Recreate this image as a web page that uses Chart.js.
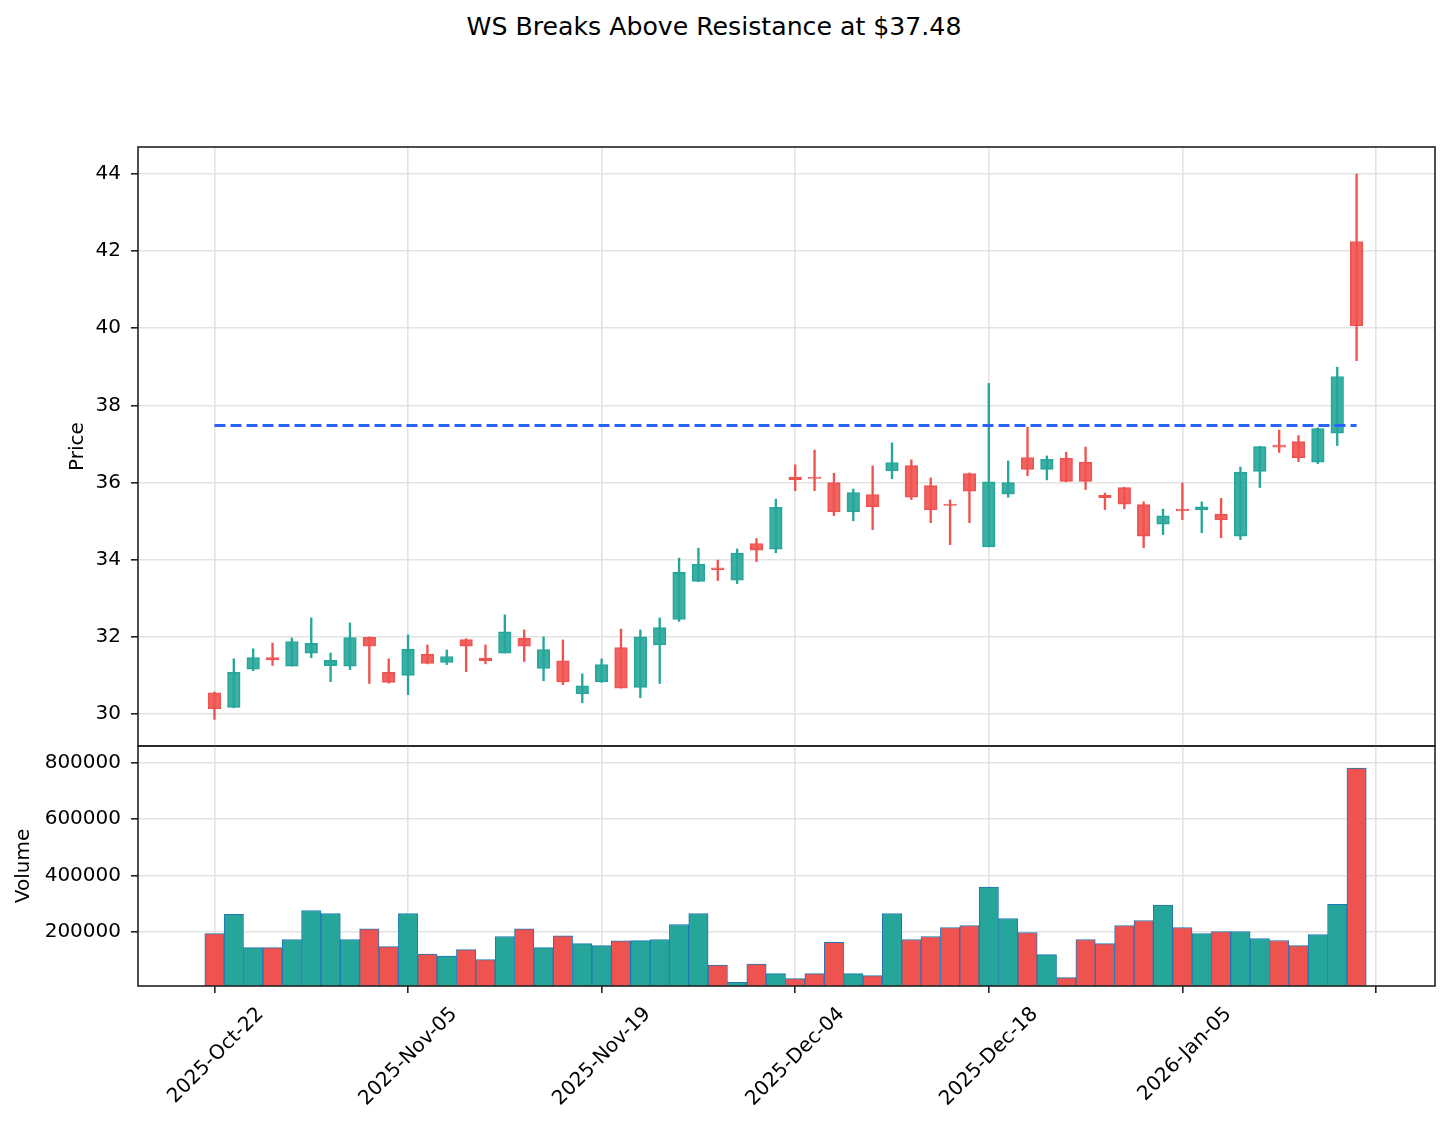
<!DOCTYPE html>
<html>
<head>
<meta charset="utf-8">
<script src="https://cdn.jsdelivr.net/npm/chart.js@4.4.1/dist/chart.umd.min.js"></script>
<style>
  html, body { margin: 0; padding: 0; background: #fff; }
  #wrap { position: relative; width: 1448px; height: 1126px; font-family: "DejaVu Sans", sans-serif; }
  canvas { position: absolute; left: 0; top: 0; }
  #title { position: absolute; left: 0; width: 1428px; top: 12px; text-align: center; font-size: 25.2px; line-height: 30px; color: #000; }
</style>
</head>
<body>
<div id="wrap">
  <div id="title">WS Breaks Above Resistance at $37.48</div>
  <canvas id="price" width="1448" height="748"></canvas>
  <canvas id="volume" width="1448" height="1126"></canvas>
</div>
<script>
// daily candles, 2025-10-22 .. 2026-01-16 (trading days)
const opens  = [30.55, 30.17, 31.16, 31.46, 31.24, 31.58, 31.25, 31.24, 31.99, 31.08,
                31.00, 31.55, 31.34, 31.93, 31.45, 31.58, 31.96, 31.18, 31.38, 30.52,
                30.83, 31.72, 30.69, 31.79, 32.45, 33.44, 33.79, 33.47, 34.42, 34.27,
                36.14, 36.14, 36.00, 35.24, 35.69, 36.30, 36.44, 35.92, 35.44, 36.23,
                34.33, 35.70, 36.65, 36.34, 36.63, 36.53, 35.67, 35.87, 35.43, 34.92,
                35.31, 35.29, 35.18, 34.61, 36.29, 36.97, 37.06, 36.53, 37.28, 42.25];
const highs  = [30.57, 31.43, 31.69, 31.84, 31.97, 32.49, 31.58, 32.36, 32.00, 31.43,
                32.05, 31.79, 31.66, 31.95, 31.79, 32.57, 32.18, 32.00, 31.92, 31.04,
                31.43, 32.20, 32.18, 32.49, 34.04, 34.30, 33.99, 34.28, 34.55, 35.57,
                36.46, 36.84, 36.24, 35.83, 36.43, 37.03, 36.59, 36.12, 35.55, 36.25,
                38.57, 36.56, 37.43, 36.69, 36.79, 36.92, 35.73, 35.88, 35.50, 35.31,
                35.99, 35.50, 35.59, 36.40, 36.94, 37.36, 37.22, 37.42, 38.99, 44.00];
const lows   = [29.86, 30.16, 31.12, 31.26, 31.24, 31.46, 30.84, 31.15, 30.79, 30.80,
                30.50, 31.30, 31.28, 31.10, 31.30, 31.58, 31.36, 30.86, 30.76, 30.29,
                30.82, 30.67, 30.42, 30.79, 32.40, 33.43, 33.46, 33.38, 33.95, 34.18,
                35.79, 35.79, 35.14, 35.01, 34.78, 36.10, 35.56, 34.96, 34.39, 34.96,
                34.33, 35.62, 36.18, 36.07, 36.02, 35.82, 35.30, 35.32, 34.31, 34.65,
                35.04, 34.70, 34.57, 34.52, 35.87, 36.78, 36.54, 36.49, 36.96, 39.16];
const closes = [30.13, 31.08, 31.46, 31.40, 31.88, 31.83, 31.39, 31.98, 31.76, 30.82,
                31.68, 31.31, 31.49, 31.76, 31.38, 32.13, 31.76, 31.67, 30.83, 30.73,
                31.28, 30.67, 32.00, 32.24, 33.67, 33.88, 33.74, 34.17, 34.25, 35.36,
                36.07, 36.11, 35.24, 35.74, 35.37, 36.52, 35.62, 35.29, 35.41, 35.78,
                36.02, 36.00, 36.34, 36.60, 36.03, 36.03, 35.61, 35.44, 34.61, 35.14,
                35.27, 35.37, 35.03, 36.27, 36.93, 36.92, 36.64, 37.40, 38.75, 40.06];
const volumes = [194000, 262000, 144500, 144000, 173000, 276000, 265500, 173000, 210700, 148000,
                 265500, 121700, 114600, 137400, 101800, 183600, 210700, 144500, 185800, 158700,
                 151600, 168000, 169000, 173000, 226300, 265500, 82600, 21000, 86000, 52000,
                 34200, 52000, 163300, 52000, 44800, 265500, 173000, 183600, 215700, 222800,
                 359000, 247700, 197900, 119600, 37700, 173000, 158700, 222800, 240600, 295000,
                 215700, 194300, 201400, 201400, 176500, 169400, 151600, 190700, 297500, 781500];
const resistance = 37.48;

const tickPositions = [0, 10, 20, 30, 40, 50, 60];
const tickLabels = ['2025-Oct-22', '2025-Nov-05', '2025-Nov-19', '2025-Dec-04', '2025-Dec-18', '2026-Jan-05', ''];
const priceTicks = [30, 32, 34, 36, 38, 40, 42, 44];
const volumeTicks = [200000, 400000, 600000, 800000];

const UP = '#26a69a', DOWN = '#ef5350';
const UP_FILL = 'rgba(38,166,154,0.9)', DOWN_FILL = 'rgba(239,83,80,0.9)';
const GRID = '#e3e3e3', SPINE = '#222';

const idx = closes.map((_, i) => i);
const isUp = idx.map(i => closes[i] >= opens[i]);

Chart.defaults.font.family = '"DejaVu Sans", sans-serif';
Chart.defaults.font.size = 20;
Chart.defaults.color = '#000';

// matplotlib-like box around each panel
const frame = {
  id: 'frame',
  afterDraw(chart) {
    const { ctx, chartArea: a } = chart;
    ctx.save();
    ctx.strokeStyle = SPINE;
    ctx.lineWidth = 1.6;
    ctx.strokeRect(a.left, a.top, a.right - a.left, a.bottom - a.top);
    ctx.restore();
  }
};

const X_MIN = -3.95, X_MAX = 63.05;
const setTicks = list => scale => { scale.ticks = list.map(v => ({ value: v })); };
// pin the axis box sizes so both panels share one plot frame
const fixWidth = w => s => { s.width = w; s.paddingTop = 0; s.paddingBottom = 0; };
const fixHeight = h => s => { s.height = h; s.paddingLeft = 0; s.paddingRight = 0; };

new Chart(document.getElementById('price'), {
  type: 'bar',
  data: {
    datasets: [
      {
        type: 'line',
        data: [{ x: 0, y: resistance }, { x: closes.length - 1, y: resistance }],
        borderColor: '#2962ff', borderWidth: 3, borderDash: [11, 5],
        pointRadius: 0, order: 0
      },
      {
        data: idx.map(i => ({ x: i, y: [opens[i], closes[i]] })),
        backgroundColor: idx.map(i => isUp[i] ? UP_FILL : DOWN_FILL),
        borderColor: idx.map(i => isUp[i] ? UP : DOWN),
        borderWidth: 1, borderSkipped: false,
        barThickness: 12.6, grouped: false, order: 1
      },
      {
        data: idx.map(i => ({ x: i, y: [lows[i], highs[i]] })),
        backgroundColor: idx.map(i => isUp[i] ? UP : DOWN),
        borderWidth: 0,
        barThickness: 1.7, grouped: false, order: 2
      }
    ]
  },
  options: {
    responsive: false, animation: false, devicePixelRatio: 1,
    layout: { padding: { top: 147, right: 13, bottom: 2, left: 0 } },
    plugins: { legend: { display: false }, tooltip: { enabled: false } },
    scales: {
      x: {
        type: 'linear', min: X_MIN, max: X_MAX, offset: false,
        afterBuildTicks: setTicks(tickPositions),
        ticks: { display: false },
        grid: { color: GRID, lineWidth: 1.6, drawTicks: false, offset: false },
        border: { display: false },
        afterFit: fixHeight(0)
      },
      y: {
        type: 'linear', min: 29.17, max: 44.70,
        afterBuildTicks: setTicks(priceTicks),
        ticks: { padding: 10, callback: v => String(v) },
        grid: { color: GRID, lineWidth: 1.6, tickLength: 7, tickColor: SPINE, tickWidth: 1.6 },
        border: { display: false },
        title: { display: true, text: 'Price', padding: { top: 66, bottom: 0 } },
        afterFit: fixWidth(138)
      }
    }
  },
  plugins: [frame]
});

new Chart(document.getElementById('volume'), {
  type: 'bar',
  data: {
    datasets: [{
      data: idx.map(i => ({ x: i, y: volumes[i] })),
      backgroundColor: idx.map(i => isUp[i] ? UP : DOWN),
      borderColor: '#1f77b4', borderWidth: 1, borderSkipped: false,
      categoryPercentage: 1, barPercentage: 1, grouped: false
    }]
  },
  options: {
    responsive: false, animation: false, devicePixelRatio: 1,
    layout: { padding: { top: 746, right: 13, bottom: 0, left: 0 } },
    plugins: { legend: { display: false }, tooltip: { enabled: false } },
    scales: {
      x: {
        type: 'linear', min: X_MIN, max: X_MAX, offset: false,
        afterBuildTicks: setTicks(tickPositions),
        ticks: {
          autoSkip: false, maxRotation: 45, minRotation: 45,
          labelOffset: 46, padding: 9.5,
          callback: v => tickLabels[tickPositions.indexOf(v)]
        },
        grid: { color: GRID, lineWidth: 1.6, tickLength: 7, tickColor: SPINE, tickWidth: 1.6, offset: false },
        border: { display: false },
        afterFit: fixHeight(140)
      },
      y: {
        type: 'linear', min: 8000, max: 860000,
        afterBuildTicks: setTicks(volumeTicks),
        ticks: { padding: 10, callback: v => String(v) },
        grid: { color: GRID, lineWidth: 1.6, tickLength: 7, tickColor: SPINE, tickWidth: 1.6 },
        border: { display: false },
        title: { display: true, text: 'Volume', padding: { top: 12, bottom: 0 } },
        afterFit: fixWidth(138)
      }
    }
  },
  plugins: [frame]
});
</script>
</body>
</html>
